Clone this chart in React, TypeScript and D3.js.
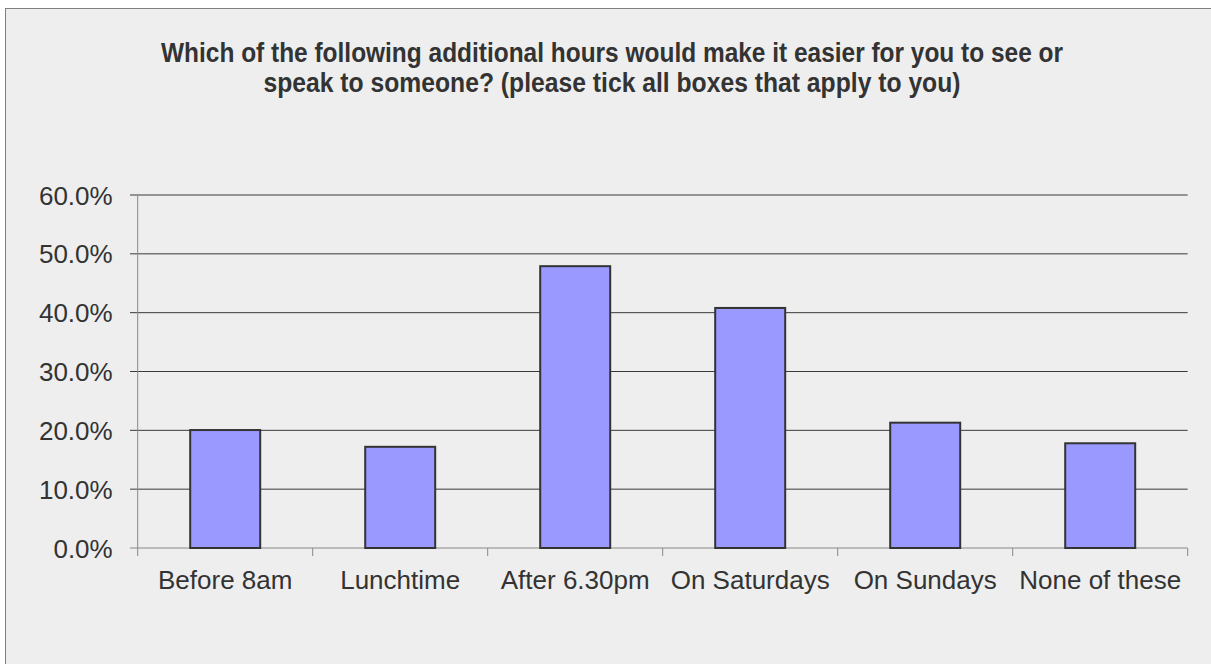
import React from "react";
import * as d3 from "d3";

const categories = ["Before 8am", "Lunchtime", "After 6.30pm", "On Saturdays", "On Sundays", "None of these"];
const values = [0.2005, 0.172, 0.479, 0.408, 0.213, 0.178];
const yTicks = [0, 0.1, 0.2, 0.3, 0.4, 0.5, 0.6];
const titleLines = [
  "Which of the following additional hours would make it easier for you to see or",
  "speak to someone? (please tick all boxes that apply to you)",
];

const W = 1211;
const H = 664;
const plot = { left: 137.7, right: 1187.7, top: 195, bottom: 548 };

export default function App() {
  const x = d3.scaleBand<string>().domain(categories).range([plot.left, plot.right]).paddingInner(0).paddingOuter(0);
  const y = d3.scaleLinear().domain([0, 0.6]).range([plot.bottom, plot.top]);
  const fmt = d3.format(".1%");
  const bw = x.bandwidth() * 0.4;
  const font = "'Liberation Sans', Arial, sans-serif";
  const textColor = "#333333";
  const boundaries = categories.map((c) => x(c) as number).concat([plot.right]);

  return (
    <svg width={W} height={H} style={{ position: "absolute", left: 0, top: 0 }}>
      <rect x={0} y={0} width={W} height={H} fill="#ffffff" />
      <rect x={5.5} y={8.5} width={W + 10} height={H + 10} fill="#eeeeee" stroke="#808080" strokeWidth={1} />

      {titleLines.map((t, i) => (
        <text
          key={i}
          x={612}
          y={61.5 + i * 30}
          textAnchor="middle"
          fontFamily="'Liberation Sans Narrow', 'Liberation Sans', Arial, sans-serif"
          fontWeight="bold"
          fontSize={27.5}
          fill={textColor}
          textLength={i === 0 ? 902 : 697}
          lengthAdjust="spacingAndGlyphs"
        >
          {t}
        </text>
      ))}

      {yTicks.map((t) => (
        <g key={t}>
          <line x1={130} x2={plot.right} y1={y(t)} y2={y(t)} stroke={t === 0 ? "#888888" : "#3a3a3a"} strokeWidth={1} />
          <text
            x={112.7}
            y={y(t) + 9.5}
            textAnchor="end"
            fontFamily={font}
            fontSize={26}
            fill={textColor}
          >
            {fmt(t)}
          </text>
        </g>
      ))}

      <line x1={plot.left} x2={plot.left} y1={plot.top} y2={plot.bottom + 8} stroke="#888888" strokeWidth={1} />
      {boundaries.slice(1).map((b, i) => (
        <line key={i} x1={b} x2={b} y1={plot.bottom} y2={plot.bottom + 8} stroke="#888888" strokeWidth={1} />
      ))}

      {categories.map((c, i) => {
        const cx = (x(c) as number) + x.bandwidth() / 2;
        return (
          <rect
            key={c}
            x={cx - bw / 2}
            y={y(values[i])}
            width={bw}
            height={y(0) - y(values[i])}
            fill="#9999ff"
            stroke="#333333"
            strokeWidth={2}
          />
        );
      })}

      {categories.map((c) => (
        <text
          key={c}
          x={(x(c) as number) + x.bandwidth() / 2}
          y={589.3}
          textAnchor="middle"
          fontFamily={font}
          fontSize={26}
          fill={textColor}
        >
          {c}
        </text>
      ))}
    </svg>
  );
}
